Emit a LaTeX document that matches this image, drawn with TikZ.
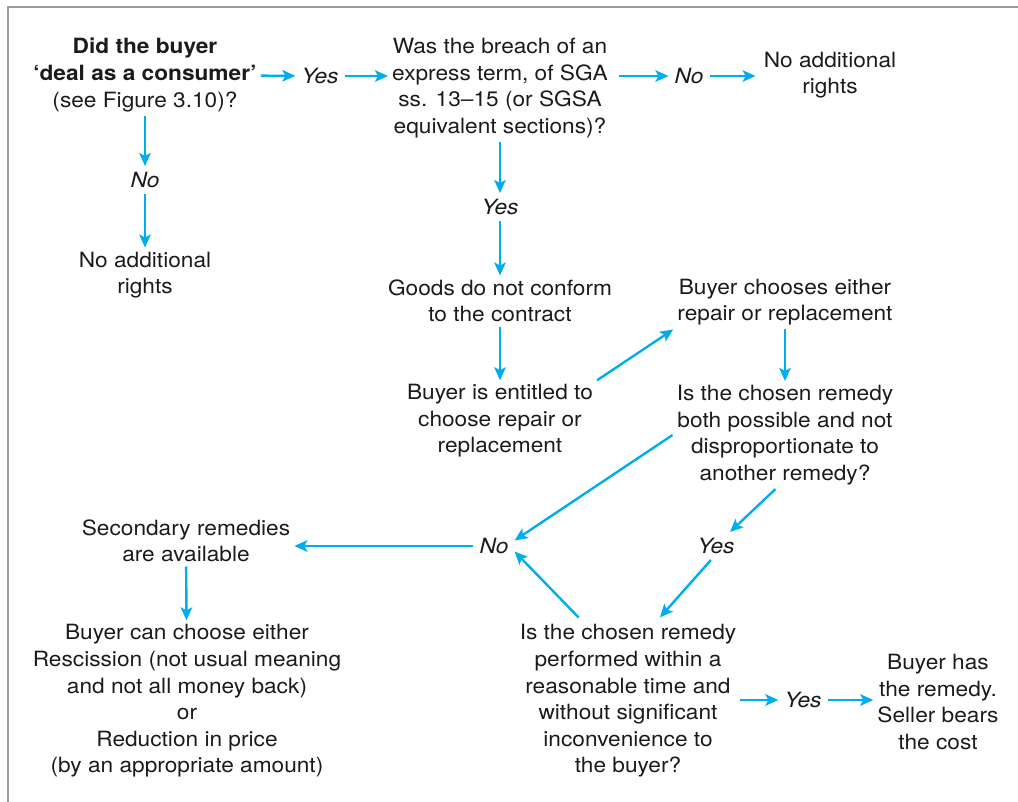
\documentclass[tikz,border=0pt]{standalone}
\usepackage{fontspec}
\setmainfont{TeX Gyre Heros}[FakeStretch=1.08]
\usetikzlibrary{arrows.meta}
\definecolor{arr}{HTML}{00AEEF}
\definecolor{txt}{HTML}{1E1A1B}
\definecolor{framegray}{HTML}{9B9B9B}
\begin{document}
\begin{tikzpicture}[x=1pt,y=-1pt,
  box/.style={align=center,inner sep=4pt,text=txt,font=\fontsize{21}{26.6}\selectfont},
  lab/.style={inner sep=6pt,text=txt,font=\fontsize{21}{26.6}\selectfont\itshape},
  flow/.style={draw=arr,line width=2.4pt,-{Stealth[length=13pt,width=11.5pt,inset=3pt]}}]
\useasboundingbox (0,0) rectangle (1018,802);
\draw[framegray,line width=2.5pt] (8,802) -- (8,7) -- (1018,7);

\node[box] (A) at (145,75) {\textbf{Did the buyer}\\\textbf{‘deal as a consumer’}\\(see Figure 3.10)?};
\node[lab] (yes1) at (320,76) {Yes};
\node[box] (B) at (500,88) {Was the breach of an\\express term, of SGA\\ss. 13--15 (or SGSA\\equivalent sections)?};
\node[lab] (no1) at (689,76) {No};
\node[box] (C) at (830,75) {No additional\\rights};

\node[lab] (noA) at (145,180) {No};
\node[box] (D) at (145,275) {No additional\\rights};

\node[lab] (yesB) at (500,207) {Yes};
\node[box] (E) at (500,301) {Goods do not conform\\to the contract};
\node[box] (F) at (500,421) {Buyer is entitled to\\choose repair or\\replacement};
\node[box] (G) at (785,302) {Buyer chooses either\\repair or replacement};
\node[box] (H) at (785,435) {Is the chosen remedy\\both possible and not\\disproportionate to\\another remedy?};

\node[lab] (noM) at (494,546) {No};
\node[lab] (yesM) at (716,546) {Yes};
\node[box] (S) at (186,541) {Secondary remedies\\are available};
\node[box] (R) at (187,701) {Buyer can choose either\\Rescission (not usual meaning\\and not all money back)\\or\\Reduction in price\\(by an appropriate amount)};
\node[box] (Q) at (628,701) {Is the chosen remedy\\performed within a\\reasonable time and\\without significant\\inconvenience to\\the buyer?};
\node[lab] (yesR) at (803,700) {Yes};
\node[box] (T) at (938,702) {Buyer has\\the remedy.\\Seller bears\\the cost};

\draw[flow] (A) -- (yes1);
\draw[flow] (yes1) -- (B.west |- yes1);
\draw[flow,shorten <=7pt] (B.east |- no1) -- (no1);
\draw[flow,shorten >=4pt] (no1) -- (C.west |- no1);
\draw[flow] (A) -- (noA);
\draw[flow] (noA) -- (D);
\draw[flow] (B) -- (yesB);
\draw[flow] (yesB) -- (E);
\draw[flow] (E) -- (F);
\draw[flow] (F.north east) -- (G.south west);
\draw[flow] (G) -- (H);
\draw[flow] (H.west) -- (noM.15);
\draw[flow] (H.-100) -- (yesM.45);
\draw[flow,shorten >=4pt] (yesM.-110) -- (Q.70);
\draw[flow,shorten <=4pt] (Q.120) -- (noM.-15);
\draw[flow] (noM) -- (S.east |- noM);
\draw[flow] (S) -- (R);
\draw[flow] (Q.east |- yesR) -- (yesR);
\draw[flow] (yesR) -- (T.west |- yesR);
\end{tikzpicture}
\end{document}
